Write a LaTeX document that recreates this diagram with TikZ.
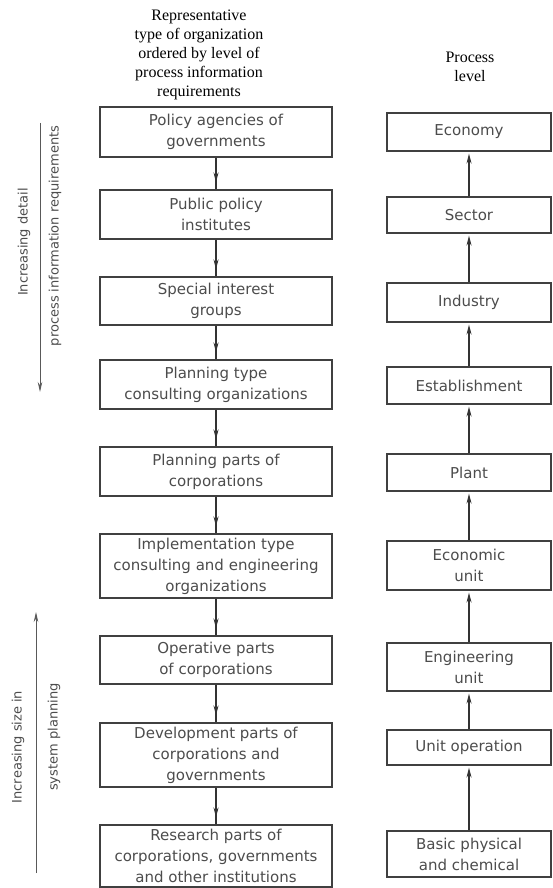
\documentclass[tikz,border=0pt]{standalone}
\usepackage{fontspec}
\setmainfont{Liberation Serif}
\newfontfamily\letterfont{DejaVu Sans}
\usetikzlibrary{arrows.meta,decorations.markings}

\begin{document}
\begin{tikzpicture}[x=1pt,y=-1pt,orgbox/.style={draw=black!75,line width=1.1pt,minimum width=232pt,align=center,inner sep=2pt,text=black!70,font=\letterfont\fontsize{15}{21}\selectfont},levelbox/.style={orgbox,minimum width=164pt},headtext/.style={align=center,font=\fontsize{16}{19}\selectfont},sidetext/.style={rotate=90,text=black!70,font=\letterfont\fontsize{13}{15}\selectfont},flowdown/.style={draw=black!80,line width=1.1pt,postaction={decorate},decoration={markings,mark=at position -7pt with {\arrow{Stealth[length=10pt,width=5pt]}}}},flowup/.style={draw=black!80,line width=1.1pt,-{Stealth[length=10pt,width=5pt]},shorten >=2pt},sidearrow/.style={draw=black!65,line width=1pt,-{Stealth[length=10pt,width=4.5pt]}}]
\useasboundingbox (0,0) rectangle (553,888);
% headings
\node[headtext] (orghead) at (199,55) {Representative\\type of organization\\ordered by level of\\process information\\requirements};
\node[headtext] (levelhead) at (470,66.5) {Process\\level};
% organizations, top to bottom
\node[orgbox,minimum height=50pt] (policy) at (216,132) {Policy agencies of\\governments};
\node[orgbox,minimum height=49pt] (institutes) at (216,214.5) {Public policy\\institutes};
\node[orgbox,minimum height=48pt] (interest) at (216,301) {Special interest\\groups};
\node[orgbox,minimum height=49pt] (planconsult) at (216,384.5) {Planning type\\consulting organizations};
\node[orgbox,minimum height=49pt] (planparts) at (216,471.5) {Planning parts of\\corporations};
\node[orgbox,minimum height=64pt] (implement) at (216,566) {Implementation type\\consulting and engineering\\organizations};
\node[orgbox,minimum height=48pt] (operative) at (216,660) {Operative parts\\of corporations};
\node[orgbox,minimum height=64pt] (develop) at (216,755) {Development parts of\\corporations and\\governments};
\node[orgbox,minimum height=62pt] (research) at (216,856) {Research parts of\\corporations, governments\\and other institutions};
\draw[flowdown] (policy) -- (institutes);
\draw[flowdown] (institutes) -- (interest);
\draw[flowdown] (interest) -- (planconsult);
\draw[flowdown] (planconsult) -- (planparts);
\draw[flowdown] (planparts) -- (implement);
\draw[flowdown] (implement) -- (operative);
\draw[flowdown] (operative) -- (develop);
\draw[flowdown] (develop) -- (research);
% process levels, bottom to top
\node[levelbox,minimum height=38pt] (economy) at (469,132) {Economy};
\node[levelbox,minimum height=36pt] (sector) at (469,215) {Sector};
\node[levelbox,minimum height=39pt] (industry) at (469,302.5) {Industry};
\node[levelbox,minimum height=37pt] (establish) at (469,385.5) {Establishment};
\node[levelbox,minimum height=37pt] (plant) at (469,472.5) {Plant};
\node[levelbox,minimum height=49pt] (econunit) at (469,565.5) {Economic\\unit};
\node[levelbox,minimum height=48pt] (engunit) at (469,667) {Engineering\\unit};
\node[levelbox,minimum height=35pt] (unitop) at (469,747.5) {Unit operation};
\node[levelbox,minimum height=46pt] (basic) at (469,854) {Basic physical\\and chemical};
\draw[flowup] (basic) -- (unitop);
\draw[flowup] (unitop) -- (engunit);
\draw[flowup] (engunit) -- (econunit);
\draw[flowup] (econunit) -- (plant);
\draw[flowup] (plant) -- (establish);
\draw[flowup] (establish) -- (industry);
\draw[flowup] (industry) -- (sector);
\draw[flowup] (sector) -- (economy);
% side arrows
\coordinate (detailtop) at (40,123);
\coordinate (detailend) at (40,392);
\coordinate (sizebottom) at (36,873);
\coordinate (sizeend) at (36,612);
\draw[sidearrow] (detailtop) -- (detailend);
\draw[sidearrow] (sizebottom) -- (sizeend);
\node[sidetext] (detail) at (24,242) {Increasing detail};
\node[sidetext] (procinfo) at (55,236) {process information requirements};
\node[sidetext] (sizein) at (18,747) {Increasing size in};
\node[sidetext] (sysplan) at (54,737) {system planning};
\end{tikzpicture}
\end{document}
